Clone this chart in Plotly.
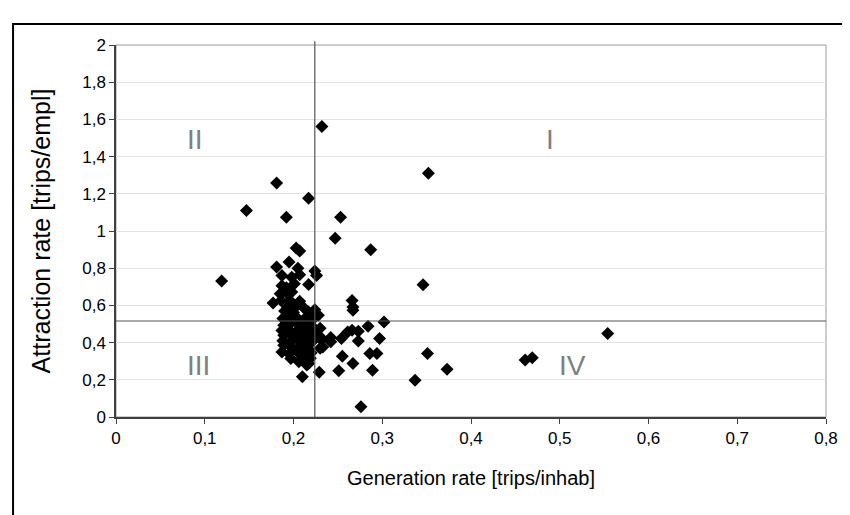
import plotly.graph_objects as go

# Generation rate [trips/inhab] (x) and Attraction rate [trips/empl] (y)
generation = [
    0.119, 0.147, 0.181, 0.217, 0.232, 0.192, 0.253, 0.247, 0.287, 0.203,
    0.207, 0.195, 0.181, 0.205, 0.224, 0.226, 0.187, 0.198, 0.207, 0.217,
    0.201, 0.187, 0.192, 0.185, 0.194, 0.198, 0.266, 0.267, 0.267, 0.352,
    0.346, 0.177, 0.186, 0.196, 0.207, 0.193, 0.204, 0.190, 0.200, 0.211,
    0.217, 0.224, 0.220, 0.228, 0.302, 0.297, 0.284, 0.273, 0.273, 0.261,
    0.266, 0.254, 0.242, 0.242, 0.231, 0.233, 0.286, 0.294, 0.255, 0.267,
    0.251, 0.289, 0.229, 0.210, 0.217, 0.276, 0.337, 0.351, 0.373, 0.461,
    0.469, 0.554,
    0.188, 0.196, 0.205, 0.214, 0.222, 0.230, 0.189, 0.197, 0.206, 0.215,
    0.221, 0.187, 0.194, 0.203, 0.211, 0.218, 0.189, 0.199, 0.208, 0.216,
    0.223, 0.232, 0.188, 0.196, 0.205, 0.213, 0.221, 0.189, 0.199, 0.208,
    0.217, 0.230, 0.187, 0.195, 0.204, 0.212, 0.220, 0.197, 0.206, 0.215,
    0.219, 0.210, 0.225,
]
attraction = [
    0.731, 1.110, 1.258, 1.176, 1.562, 1.074, 1.074, 0.961, 0.899, 0.908,
    0.892, 0.833, 0.806, 0.800, 0.785, 0.761, 0.761, 0.752, 0.765, 0.713,
    0.716, 0.706, 0.695, 0.663, 0.660, 0.672, 0.627, 0.591, 0.574, 1.310,
    0.711, 0.613, 0.627, 0.627, 0.622, 0.591, 0.600, 0.570, 0.562, 0.590,
    0.565, 0.577, 0.556, 0.547, 0.511, 0.422, 0.488, 0.461, 0.408, 0.457,
    0.466, 0.422, 0.427, 0.404, 0.417, 0.377, 0.341, 0.341, 0.327, 0.288,
    0.248, 0.252, 0.241, 0.216, 0.288, 0.055, 0.198, 0.341, 0.257, 0.306,
    0.318, 0.449,
    0.530, 0.540, 0.528, 0.535, 0.525, 0.477, 0.493, 0.505, 0.497, 0.505,
    0.488, 0.465, 0.472, 0.460, 0.475, 0.458, 0.440, 0.432, 0.445, 0.430,
    0.442, 0.422, 0.410, 0.400, 0.415, 0.398, 0.405, 0.386, 0.372, 0.380,
    0.366, 0.370, 0.350, 0.340, 0.352, 0.336, 0.345, 0.315, 0.297, 0.279,
    0.316, 0.325, 0.460,
]

gen_threshold = 0.224
attr_threshold = 0.516

quadrant_labels = ["I", "II", "III", "IV"]
quadrant_x = [0.489, 0.089, 0.093, 0.514]
quadrant_y = [1.49, 1.49, 0.277, 0.279]

x_ticks = [0, 0.1, 0.2, 0.3, 0.4, 0.5, 0.6, 0.7, 0.8]
y_ticks = [0, 0.2, 0.4, 0.6, 0.8, 1, 1.2, 1.4, 1.6, 1.8, 2]

FONT = "Liberation Sans, Arial, sans-serif"

fig = go.Figure()
fig.add_trace(go.Scatter(
    x=generation, y=attraction, mode="markers",
    marker=dict(symbol="diamond", size=10, color="black", line=dict(width=0)),
    showlegend=False, hoverinfo="x+y",
))

shapes = [
    # plot-area frame
    dict(type="rect", xref="paper", yref="paper", x0=0, x1=1, y0=0, y1=1,
         line=dict(color="#9a9a9a", width=1), layer="below"),
    # quadrant lines
    dict(type="line", xref="x", yref="paper", x0=gen_threshold, x1=gen_threshold,
         y0=0, y1=1.01, line=dict(color="#555555", width=1.2)),
    dict(type="line", xref="paper", yref="y", x0=0, x1=1,
         y0=attr_threshold, y1=attr_threshold, line=dict(color="#555555", width=1.2)),
    # outer black border (left and top edges visible)
    dict(type="rect", xref="paper", yref="paper", x0=-0.1450, x1=1.06, y0=-0.30, y1=1.0565,
         line=dict(color="black", width=2)),
]

annotations = [
    dict(x=qx, y=qy, text=lab, showarrow=False, xref="x", yref="y",
         font=dict(family=FONT, size=28, color="#7f7f7f"))
    for lab, qx, qy in zip(quadrant_labels, quadrant_x, quadrant_y)
]

# the page body adds an 8px offset, so the figure is 8px smaller and margins shifted
fig.update_layout(
    width=842, height=507,
    margin=dict(l=108, r=14, t=37, b=98),
    paper_bgcolor="white", plot_bgcolor="white",
    separators=", ",
    font=dict(family=FONT, size=17, color="black"),
    shapes=shapes, annotations=annotations,
    xaxis=dict(
        range=[0, 0.8], tickvals=x_ticks, showgrid=False, zeroline=False,
        showline=True, linecolor="#404040", linewidth=1.5,
        ticks="outside", ticklen=5, tickcolor="#404040",
        tickfont=dict(size=17),
        title=dict(text="Generation rate [trips/inhab]", font=dict(size=20), standoff=24),
    ),
    yaxis=dict(
        range=[0, 2], tickvals=y_ticks, showgrid=True, gridcolor="#e3e3e3", gridwidth=1,
        zeroline=False, showline=True, linecolor="#404040", linewidth=1.5,
        ticks="outside", ticklen=5, tickcolor="#404040",
        tickfont=dict(size=17),
        title=dict(text="Attraction rate [trips/empl]", font=dict(size=25), standoff=24),
    ),
)

fig.write_html("out.html")
